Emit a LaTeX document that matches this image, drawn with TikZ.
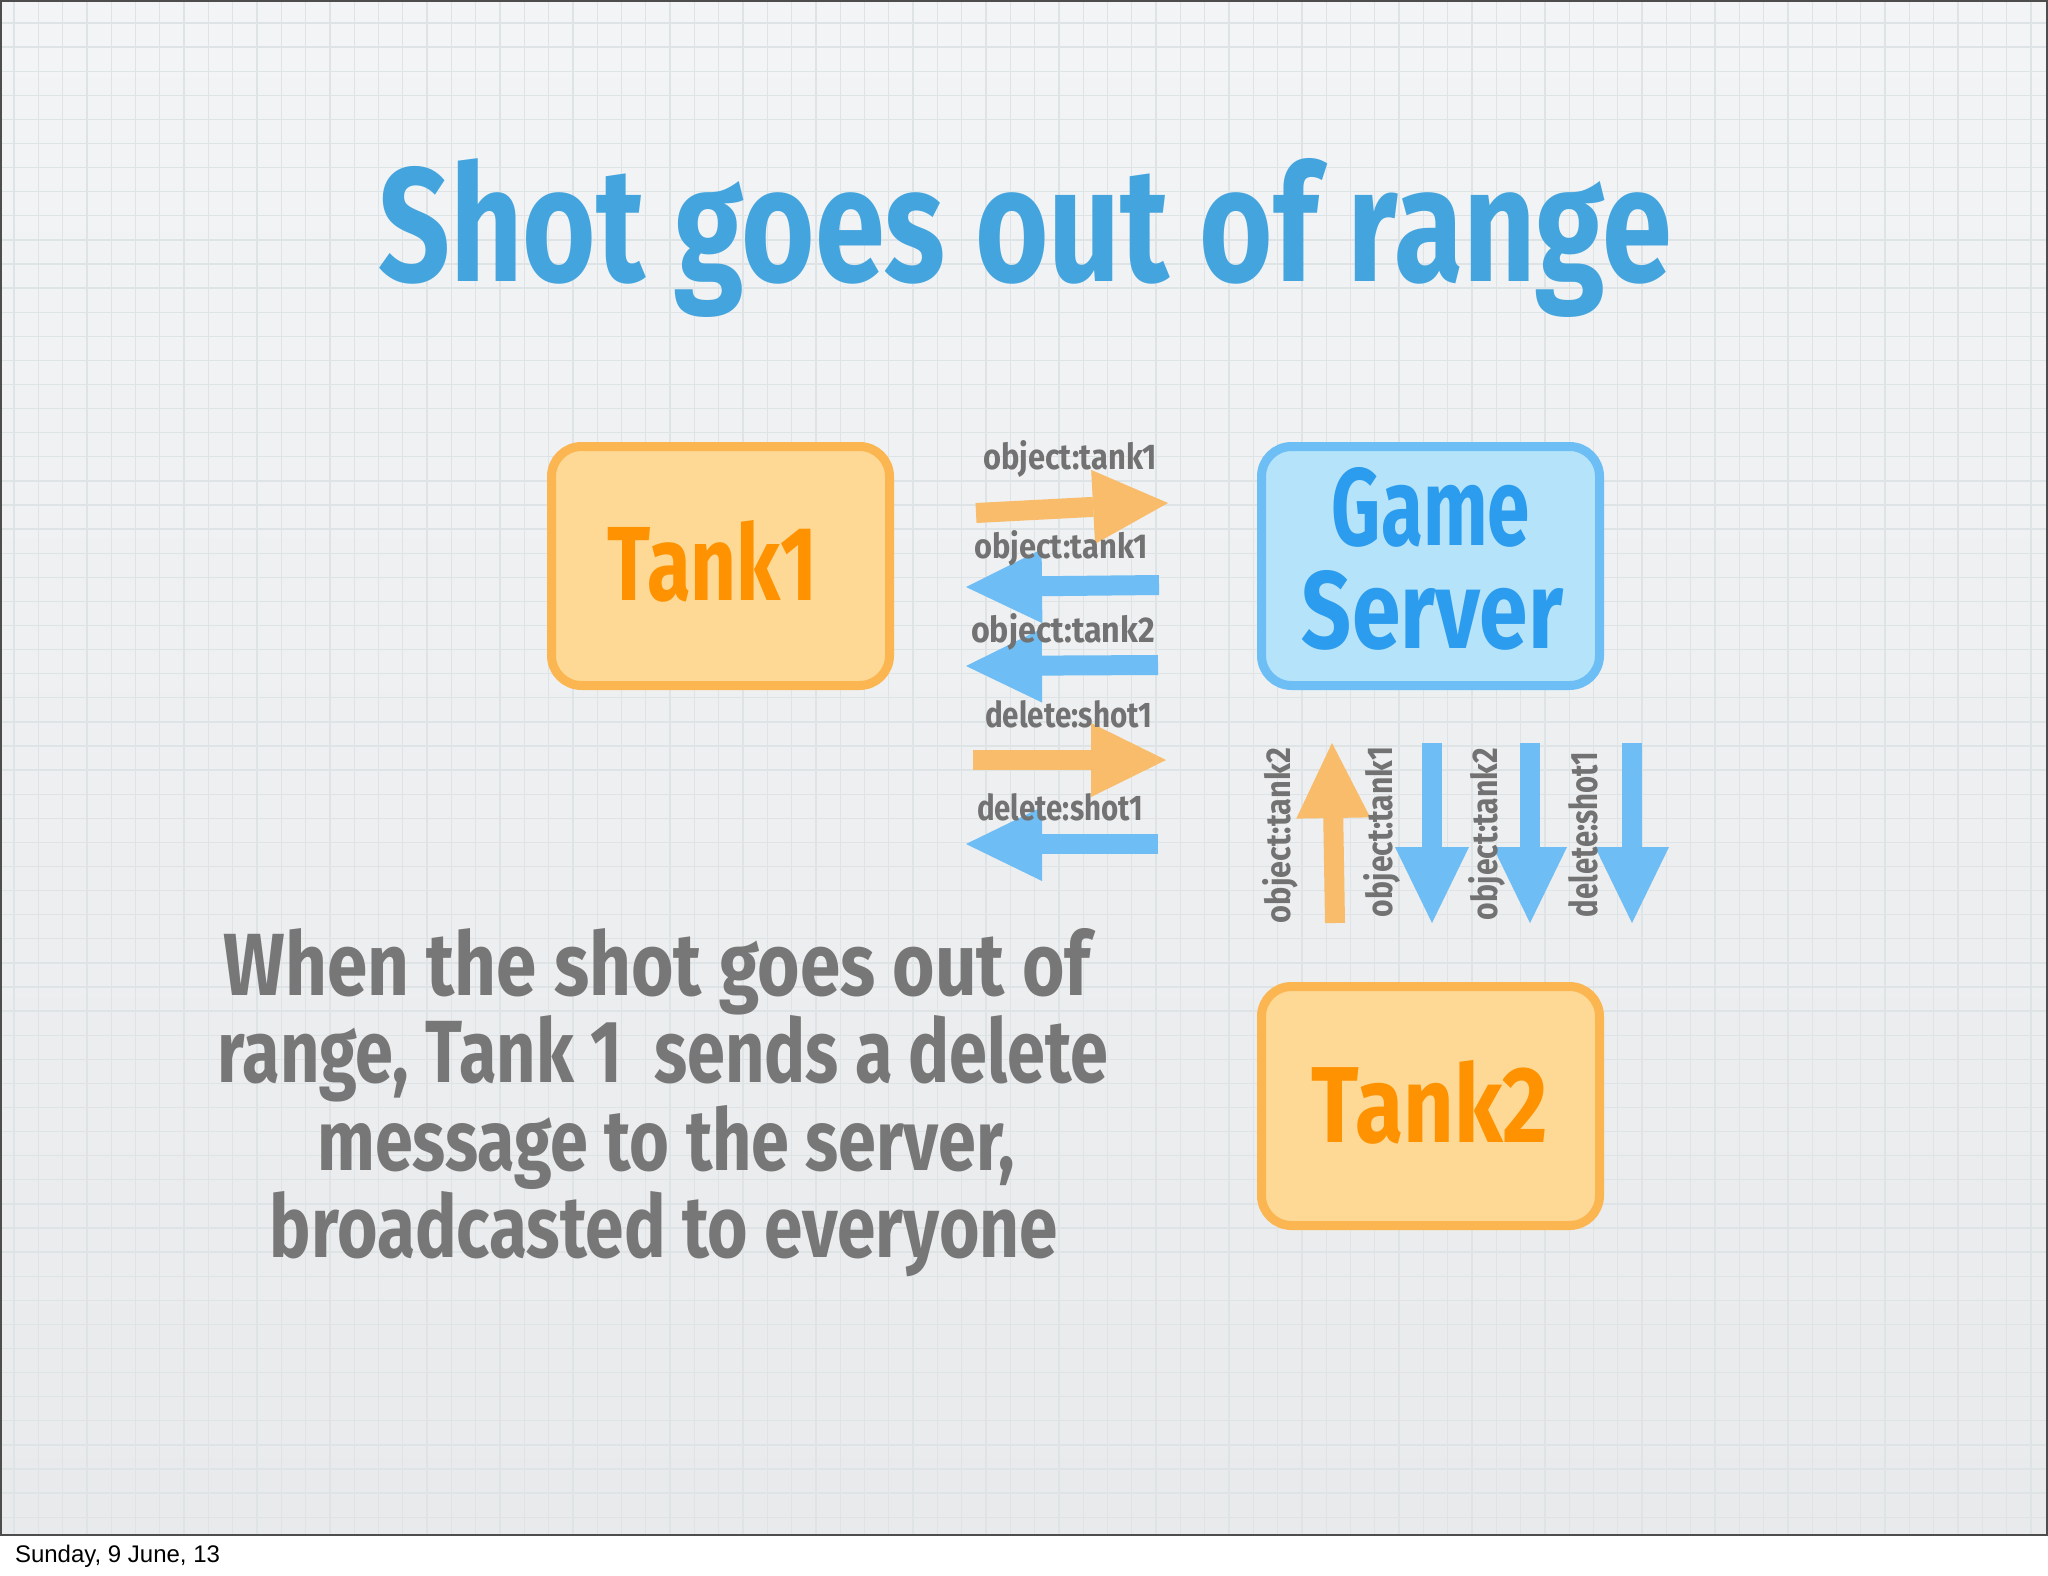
\documentclass[tikz,border=0pt]{standalone}
\usepackage{fontspec}
\usepackage{graphicx}
\setmainfont{Fira Sans}
\newfontfamily\footfont{Liberation Sans}
\usetikzlibrary{arrows.meta}
\definecolor{bgtop}{HTML}{F2F4F5}
\definecolor{bgbot}{HTML}{E8EAEC}
\definecolor{gridc}{HTML}{DEE3E6}
\definecolor{titleblue}{HTML}{44A5DE}
\definecolor{tankfill}{HTML}{FDD995}
\definecolor{tankdraw}{HTML}{FBB651}
\definecolor{tanktext}{HTML}{FF9200}
\definecolor{srvfill}{HTML}{B5E3FA}
\definecolor{srvdraw}{HTML}{6CBEF5}
\definecolor{srvtext}{HTML}{2B9CEE}
\definecolor{arrorange}{HTML}{F8BC6B}
\definecolor{arrblue}{HTML}{6EBDF4}
\definecolor{labelgray}{HTML}{727272}
\definecolor{bodygray}{HTML}{777777}
\definecolor{slideborder}{HTML}{4D4D4D}
\newcommand{\fitt}[3]{\resizebox{#1pt}{#2pt}{\bfseries #3}}
\begin{document}
\begin{tikzpicture}[x=1pt,y=-1pt,
  txt/.style={inner sep=0pt, outer sep=0pt},
  boxbase/.style={rounded corners=30pt, line width=9pt, minimum width=338pt, minimum height=239pt, inner sep=0pt},
  tankbox/.style={boxbase, fill=tankfill, draw=tankdraw},
  srvbox/.style={boxbase, fill=srvfill, draw=srvdraw},
  oarrow/.style={draw=arrorange, line width=20pt, -{Triangle[length=75pt, width=74pt, line width=0pt]}},
  barrow/.style={draw=arrblue, line width=20pt, -{Triangle[length=76pt, width=74pt, line width=0pt]}},
  msg/.style={txt, text=labelgray, anchor=base west},
  vmsg/.style={txt, text=labelgray, anchor=base west, rotate=90},
  body/.style={txt, text=bodygray, anchor=base}
]
\useasboundingbox (0,0) rectangle (2048,1576);
\fill[white] (0,0) rectangle (2048,1576);
\shade[top color=bgtop, bottom color=bgbot] (1,1) rectangle (2047,1535);
\foreach \k in {0,...,84} {\draw[gridc, line width=1.3pt] ({14+24.3*\k},1) -- ({14+24.3*\k},1534);}
\foreach \k in {0,...,62} {\draw[gridc, line width=1.3pt] (1,{23+24.1*\k}) -- (2047,{23+24.1*\k});}
\draw[slideborder, line width=2pt] (1,1) rectangle (2047,1535);

% title
\node[txt, text=titleblue, anchor=base west] (title) at (378,281) {\fitt{1293}{123}{Shot goes out of range}};

% boxes
\node[tankbox] (tank1) at (720.5,566) {};
\node[srvbox] (server) at (1430.5,566) {};
\node[tankbox] (tank2) at (1430.5,1106) {};
\node[txt, text=tanktext, anchor=base] (tank1label) at (712.5,600) {\fitt{209}{80}{Tank1}};
\node[txt, text=srvtext, anchor=base] (serverlabelA) at (1431,545) {\fitt{198}{78}{Game}};
\node[txt, text=srvtext, anchor=base] (serverlabelB) at (1432.5,648) {\fitt{261}{78}{Server}};
\node[txt, text=tanktext, anchor=base] (tank2label) at (1430,1142) {\fitt{236}{82}{Tank2}};

% horizontal arrows
\coordinate (h1s) at (976,513);  \coordinate (h1e) at (1168,503);
\coordinate (h2s) at (1159,585); \coordinate (h2e) at (966,587);
\coordinate (h3s) at (1158,665); \coordinate (h3e) at (966,666);
\coordinate (h4s) at (973,760);  \coordinate (h4e) at (1166,760);
\coordinate (h5s) at (1158,844); \coordinate (h5e) at (966,844);
\draw[oarrow] (h1s) -- (h1e);
\draw[barrow] (h2s) -- (h2e);
\draw[barrow] (h3s) -- (h3e);
\draw[oarrow] (h4s) -- (h4e);
\draw[barrow] (h5s) -- (h5e);

% vertical arrows
\coordinate (v1s) at (1335,923); \coordinate (v1e) at (1332,743);
\coordinate (v2s) at (1432,743); \coordinate (v2e) at (1432,923);
\coordinate (v3s) at (1530,743); \coordinate (v3e) at (1530,923);
\coordinate (v4s) at (1632,743); \coordinate (v4e) at (1632,923);
\draw[oarrow] (v1s) -- (v1e);
\draw[barrow] (v2s) -- (v2e);
\draw[barrow] (v3s) -- (v3e);
\draw[barrow] (v4s) -- (v4e);

% message labels
\node[msg] (m1) at (983,469) {\fitt{174}{29}{object:tank1}};
\node[msg] (m2) at (974,558) {\fitt{174}{28}{object:tank1}};
\node[msg] (m3) at (971,642) {\fitt{184}{29}{object:tank2}};
\node[msg] (m4) at (985,727) {\fitt{167}{27}{delete:shot1}};
\node[msg] (m5) at (977,820) {\fitt{166}{27}{delete:shot1}};
\node[vmsg] (vm1) at (1290,923) {\fitt{175}{28}{object:tank2}};
\node[vmsg] (vm2) at (1392,917) {\fitt{170}{29}{object:tank1}};
\node[vmsg] (vm3) at (1497,920) {\fitt{172}{29}{object:tank2}};
\node[vmsg] (vm4) at (1597,917) {\fitt{165}{29}{delete:shot1}};

% body text
\node[body] (body1) at (657,995) {\fitt{867}{67}{When the shot goes out of}};
\node[body] (body2) at (663,1082) {\fitt{891}{67}{range, Tank 1\ \ sends a delete}};
\node[body] (body3) at (666,1170) {\fitt{697}{65}{message to the server,}};
\node[body] (body4) at (664,1257) {\fitt{788}{66}{broadcasted to everyone}};

% footer
\node[txt, anchor=base west, font=\footfont\fontsize{24}{24}\selectfont] (footer) at (15,1562) {Sunday, 9 June, 13};
\end{tikzpicture}
\end{document}
